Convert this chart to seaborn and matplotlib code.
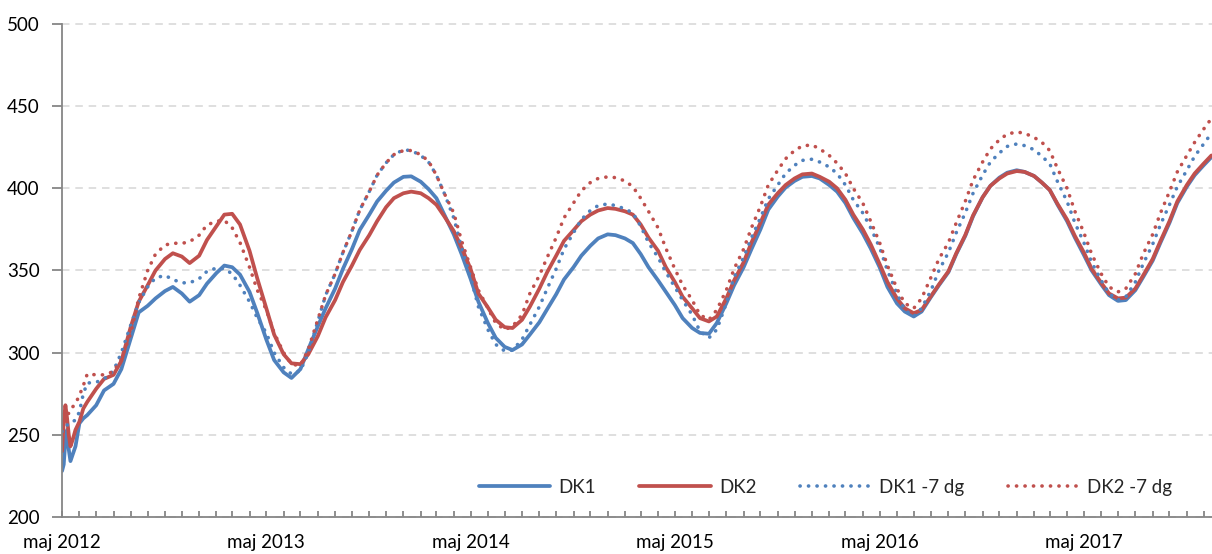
import numpy as np
import pandas as pd
import seaborn as sns
import matplotlib
matplotlib.use("Agg")
import matplotlib.pyplot as plt
import matplotlib.dates as mdates

# dates: a few close points at the start, then semi-monthly (1st and 15th)
early_days = ["2012-05-01", "2012-05-04", "2012-05-07", "2012-05-10", "2012-05-13",
              "2012-05-16", "2012-05-20", "2012-05-25", "2012-06-01", "2012-06-08"]
dates = pd.to_datetime(early_days).append(pd.date_range("2012-06-15", "2017-12-15", freq="SMS"))

dk1 = [228, 232, 247, 253, 241, 234, 238, 243, 257, 260,
       262, 268, 277, 281, 290, 309, 324.5, 328.5, 333, 337.5, 340, 336, 331,
       335, 342, 348.5, 353, 352, 347.5, 337, 324, 308, 295.5, 288, 284.6,
       290, 302, 316, 327, 339, 351, 363, 374.7, 384, 392, 398.5, 403.5,
       407, 407.3, 404, 399.5, 394, 384, 372, 360, 345, 331, 318, 309,
       303.5, 301.6, 305, 311, 318.5, 326.5, 335.5, 344.5, 352, 359, 365, 369.5,
       372, 371.5, 369.5, 366.7, 360, 352, 344, 337, 329, 321, 315, 312,
       311.5, 318, 330, 341, 352, 363, 375, 387, 395, 400.5, 404.5, 407,
       407.5, 406, 402, 398, 391, 382, 372.5, 363.5, 352, 340, 330, 325,
       322, 325, 334, 341, 349, 360, 371, 383, 394.5, 401.5, 406.5, 409.5,
       411, 410, 407.5, 403.5, 399, 390, 380, 370, 359.5, 350, 341.5, 335,
       331.5, 332, 338, 346, 356, 367, 379, 391, 401, 408, 414, 419]

dk2 = [240, 258, 268, 260, 250, 243, 247, 253, 258, 266,
       270, 278, 284, 286.5, 295, 316, 331, 341, 350, 357, 360.5, 358.5, 354.5,
       359, 368.6, 377, 384, 384.5, 378, 362, 345, 327, 311, 299, 293.5,
       293, 299, 310, 321.5, 332, 343, 353, 362.5, 371.5, 380, 388.5, 394,
       397, 398, 397, 394, 390, 383, 374, 364, 351, 336, 327.5, 320,
       315.5, 315, 320, 328, 339, 349, 359, 368, 374.5, 380, 384, 386.5,
       388, 387.5, 386, 384, 378, 370, 362, 352, 343, 334, 327, 321,
       319, 322, 333, 344, 355, 367, 379, 390, 397, 402, 406, 408.5,
       409, 407, 404, 400, 393, 384, 375, 366, 354, 343, 333, 327,
       324, 326, 334.5, 341.5, 349.5, 360.5, 371.5, 383.5, 394.5, 401.5, 406, 409,
       410.5, 410, 407.5, 403.5, 399, 390.5, 381, 371, 361, 351, 342.5, 336,
       333, 333.5, 339, 347, 357, 368, 380, 392, 402, 409, 415, 420]

dk1_7 = [252, 253, 254, 256, 256, 257, 258, 259, 264, 275,
         281.5, 282, 284, 289, 300, 317, 330.5, 340, 345.5, 347, 344.5, 342.5, 342.5,
         345, 349.5, 351.5, 351, 348, 341, 331, 321, 312, 300, 291, 287,
         289, 300, 319, 335, 348, 361, 374, 386.8, 398, 408, 415.5, 420.5,
         423.4, 423, 420, 416, 408, 397, 382, 364, 346, 328, 314, 305,
         301, 301.5, 308, 317, 328, 339, 351, 363, 373, 381, 386.5, 389.5,
         390.5, 389.5, 387.5, 385, 377, 367, 358, 349, 340, 332, 323, 313,
         309, 314, 330, 346, 358, 370, 382, 393.5, 402, 409, 414, 417,
         417.7, 416, 413, 409, 402, 393, 385, 376, 364, 350, 336, 326,
         322, 327, 338, 350, 361, 373, 385, 397, 408, 416, 421.5, 425.5,
         427, 426, 423.5, 419.5, 415, 404, 392, 379, 367, 355, 344, 336,
         332, 334, 343, 354, 366, 378, 390, 401, 411, 419.5, 427, 433.5]

dk2_7 = [258, 262, 265, 263, 263, 265, 267, 269, 274, 280,
         287, 286.5, 286.5, 288.5, 296, 312, 333, 350, 360, 365.5, 366.6, 366.5, 367.5,
         371.5, 377.7, 380, 380.5, 376, 367, 352, 338, 326, 312, 300, 293,
         292, 302, 320, 335, 348, 361, 374, 386.8, 398, 408, 415.5, 420.5,
         423, 423, 420.5, 416.5, 408, 397, 385, 368, 352, 338, 327, 318,
         314, 316, 323, 336, 347, 358, 370, 382, 391, 398.5, 403.5, 406,
         407, 406.5, 404.5, 401, 394, 386, 376, 363.5, 351, 341, 332, 323,
         320, 326, 338, 351, 363, 376, 389, 402, 411, 418, 423, 425.8,
         426.4, 424, 420, 415.3, 409, 400, 391, 380, 367, 353, 339, 330,
         327, 333, 346, 357, 367, 379, 392, 405, 416, 424, 429.5, 433,
         434.3, 433.5, 431, 428, 423, 412, 400, 386, 373, 360, 348, 340,
         337, 339, 348, 360, 372, 385, 398, 410, 420, 428, 436, 442.5]

names = ["DK1", "DK2", "DK1 -7 dg", "DK2 -7 dg"]
colors = ["#4F81BD", "#C0504D", "#4F81BD", "#C0504D"]
dotted = [False, False, True, True]

sns.set_style("white")
plt.rcParams["font.family"] = ["Lato", "DejaVu Sans"]

fig = plt.figure(figsize=(12.12, 5.54), dpi=100)
ax = fig.add_axes([0.0512, 0.0668, 0.9488, 0.8899])

axis_grey = "#868686"

for vals, name, col, dot in zip([dk1, dk2, dk1_7, dk2_7], names, colors, dotted):
    if dot:
        sns.lineplot(x=dates, y=vals, ax=ax, color=col, lw=2.6, label=name,
                     linestyle=(0, (0.05, 2.3)), dash_capstyle="round")
    else:
        sns.lineplot(x=dates, y=vals, ax=ax, color=col, lw=2.7, label=name,
                     solid_capstyle="round", solid_joinstyle="round")

ax.set_xlim(pd.Timestamp("2012-05-01"), pd.Timestamp("2017-12-16"))
ax.set_ylim(200, 500)
ax.set_yticks(np.arange(200, 501, 50))
ax.set_xlabel("")
ax.set_ylabel("")

ax.grid(axis="y", color="#d9d9d9", lw=1.2, linestyle=(0, (4.5, 3.5)))
ax.grid(axis="x", visible=False)
for gl in ax.get_ygridlines():
    gl.set_clip_on(False)
ax.set_axisbelow(True)

ax.xaxis.set_major_locator(mdates.MonthLocator(bymonth=5))
ax.xaxis.set_minor_locator(mdates.MonthLocator())
ax.xaxis.set_major_formatter(mdates.DateFormatter("maj %Y"))
ax.xaxis.remove_overlapping_locs = False

ax.tick_params(axis="x", which="major", direction="out", length=7, width=1.3,
               color=axis_grey, pad=5, labelsize=13.5, labelcolor="black")
ax.tick_params(axis="x", which="minor", direction="in", length=4, width=1.3,
               color=axis_grey, bottom=True)
ax.tick_params(axis="y", direction="out", length=7, width=1.3, color=axis_grey,
               pad=9, labelsize=13.5, labelcolor="black", left=True)

for side in ["top", "right"]:
    ax.spines[side].set_visible(False)
for side in ["left", "bottom"]:
    ax.spines[side].set_color(axis_grey)
    ax.spines[side].set_linewidth(1.3)

ax.legend(loc="center", bbox_to_anchor=(0.664, 0.06), ncol=4, frameon=False,
          handlelength=3.8, handletextpad=0.45, columnspacing=2.3, fontsize=13.5,
          borderaxespad=0)

fig.savefig("out.png", dpi=100)
